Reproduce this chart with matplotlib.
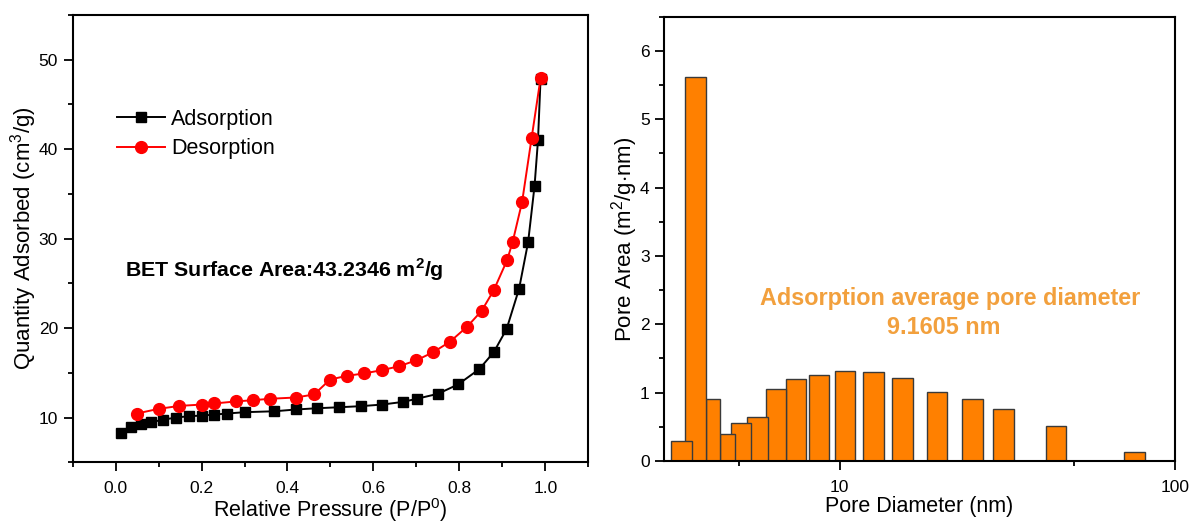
import numpy as np
import matplotlib
matplotlib.use("Agg")
import matplotlib.pyplot as plt
from matplotlib.ticker import MultipleLocator, FixedLocator, NullFormatter

plt.rcParams['font.family'] = ['Liberation Sans', 'DejaVu Sans']
plt.rcParams['mathtext.fontset'] = 'custom'
plt.rcParams['mathtext.rm'] = 'Liberation Sans'
plt.rcParams['mathtext.bf'] = 'Liberation Sans:bold'

# N2 isotherm (relative pressure, quantity adsorbed in cm3/g)
ads_p = [0.012, 0.035, 0.059, 0.082, 0.111, 0.141, 0.170, 0.201, 0.230, 0.259,
         0.301, 0.369, 0.420, 0.469, 0.520, 0.570, 0.620, 0.669, 0.701, 0.750,
         0.797, 0.846, 0.880, 0.910, 0.939, 0.960, 0.975, 0.983, 0.989]
ads_q = [8.28, 8.95, 9.25, 9.47, 9.77, 10.0, 10.15, 10.22, 10.33, 10.45,
         10.6, 10.7, 10.9, 11.04, 11.15, 11.27, 11.45, 11.75, 12.1, 12.65,
         13.7, 15.4, 17.3, 19.9, 24.4, 29.6, 35.9, 41.0, 47.9]

des_p = [0.049, 0.100, 0.148, 0.200, 0.229, 0.280, 0.320, 0.360, 0.419, 0.462,
         0.499, 0.538, 0.578, 0.620, 0.660, 0.700, 0.739, 0.778, 0.818, 0.852,
         0.880, 0.911, 0.924, 0.946, 0.968, 0.989]
des_q = [10.45, 10.97, 11.3, 11.45, 11.57, 11.8, 11.94, 12.1, 12.24, 12.58,
         14.25, 14.66, 14.93, 15.3, 15.74, 16.4, 17.3, 18.47, 20.15, 21.94,
         24.23, 27.58, 29.63, 34.1, 41.2, 47.95]

# BJH pore area distribution: diameter interval (nm) and area (m2/g.nm)
pore_lo = [3.147, 3.464, 3.992, 4.404, 4.728, 5.298, 6.024, 6.922, 8.125, 9.70,
           11.78, 14.30, 18.16, 23.2, 28.67, 41.3, 70.6]
pore_hi = [3.62, 3.992, 4.404, 4.870, 5.434, 6.118, 6.922, 7.963, 9.294, 11.12,
           13.58, 16.50, 20.87, 26.7, 33.0, 47.4, 81.3]
pore_a = [0.30, 5.62, 0.91, 0.39, 0.56, 0.65, 1.05, 1.195, 1.26, 1.31,
          1.30, 1.22, 1.01, 0.90, 0.755, 0.51, 0.13]

bet_text = r"BET Surface Area:43.2346 m$^\mathbf{2}$/g"
avg_text = ["Adsorption average pore diameter", "9.1605 nm"]

fig = plt.figure(figsize=(11.93, 5.24), dpi=100)

def style_axes(ax):
    for s in ax.spines.values():
        s.set_linewidth(1.5)
        s.set_color('black')
    ax.tick_params(which='major', direction='out', length=6.5, width=1.3,
                   labelsize=12.5, top=False, right=False)
    ax.tick_params(which='minor', direction='out', length=3.5, width=1.3,
                   top=False, right=False)
    ax.tick_params(axis='x', which='major', pad=7)
    ax.tick_params(axis='y', which='major', pad=4)

# ---- isotherm ----
ax1 = fig.add_axes([0.0609, 0.1178, 0.4322, 0.8536])
ax1.plot(ads_p, ads_q, color='black', lw=1.4, marker='s', ms=7.5,
         label='Adsorption', zorder=3)
ax1.plot(des_p, des_q, color='red', lw=1.4, marker='o', ms=8.5,
         label='Desorption', zorder=4)
ax1.set_xlim(-0.1, 1.1)
ax1.set_ylim(5, 55)
ax1.xaxis.set_major_locator(FixedLocator([0.0, 0.2, 0.4, 0.6, 0.8, 1.0]))
ax1.xaxis.set_minor_locator(FixedLocator([-0.1, 0.1, 0.3, 0.5, 0.7, 0.9, 1.1]))
ax1.yaxis.set_major_locator(FixedLocator([10, 20, 30, 40, 50]))
ax1.yaxis.set_minor_locator(MultipleLocator(5))
ax1.xaxis.set_major_formatter(matplotlib.ticker.FormatStrFormatter('%.1f'))
style_axes(ax1)
ax1.set_xlabel(r"Relative Pressure (P/P$^0$)", fontsize=15.5, labelpad=0)
ax1.set_ylabel(r"Quantity Adsorbed (cm$^3$/g)", fontsize=16, labelpad=0)
leg = ax1.legend(loc='upper left', bbox_to_anchor=(0.07, 0.81), frameon=False,
                 fontsize=15.5, handlelength=2.2, handletextpad=0.3,
                 labelspacing=0.4, borderaxespad=0)
ax1.text(0.022, 26.5, bet_text, fontsize=15.4, fontweight='bold',
         ha='left', va='center')

# ---- pore area distribution ----
ax2 = fig.add_axes([0.5568, 0.1202, 0.4281, 0.8479])
widths = [hi - lo for lo, hi in zip(pore_lo, pore_hi)]
# smaller pores are drawn last so their outlines sit on top of neighbours
ax2.bar(pore_lo[::-1], pore_a[::-1], width=widths[::-1], align='edge',
        color='#FF8000', edgecolor='#3a3a3a', linewidth=1.0, zorder=2)
ax2.set_xscale('log')
ax2.set_xlim(3, 100)
ax2.set_ylim(0, 6.5)
ax2.xaxis.set_major_locator(FixedLocator([10, 100]))
ax2.xaxis.set_major_formatter(matplotlib.ticker.FixedFormatter(['10', '100']))
ax2.xaxis.set_minor_locator(FixedLocator([5, 50]))
ax2.xaxis.set_minor_formatter(NullFormatter())
ax2.yaxis.set_major_locator(MultipleLocator(1))
ax2.yaxis.set_minor_locator(MultipleLocator(0.5))
style_axes(ax2)
ax2.set_xlabel("Pore Diameter (nm)", fontsize=15.5, labelpad=1)
ax2.set_ylabel(r"Pore Area (m$^2$/g$\cdot$nm)", fontsize=16, labelpad=0)
ax2.text(21.4, 2.38, avg_text[0], fontsize=16.8, fontweight='bold',
         color='#F2A03D', ha='center', va='center')
ax2.text(20.5, 1.95, avg_text[1], fontsize=16.8, fontweight='bold',
         color='#F2A03D', ha='center', va='center')

fig.savefig("out.png", dpi=100)
